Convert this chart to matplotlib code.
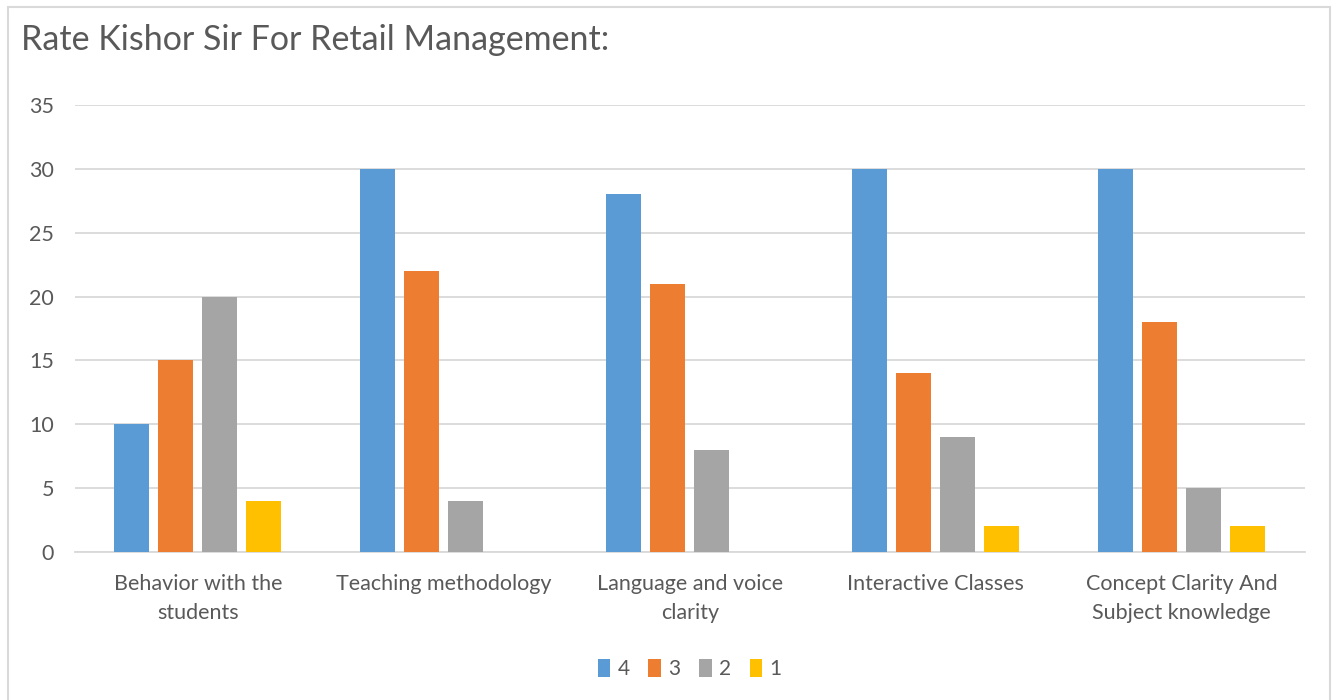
import numpy as np
import matplotlib.pyplot as plt
from matplotlib.patches import Rectangle

categories = ['Behavior with the\nstudents', 'Teaching methodology', 'Language and voice\nclarity',
              'Interactive Classes', 'Concept Clarity And\nSubject knowledge']
series_names = ['4', '3', '2', '1']
vals_4 = [10, 30, 28, 30, 30]
vals_3 = [15, 22, 21, 14, 18]
vals_2 = [20, 4, 8, 9, 5]
vals_1 = [4, 0, 0, 2, 2]
colors = ['#5B9BD5', '#ED7D31', '#A5A5A5', '#FFC000']

plt.rcParams['font.family'] = ['Lato', 'DejaVu Sans']
text_col = '#595959'

fig = plt.figure(figsize=(13.38, 7.0), dpi=100)
fig.patches.append(Rectangle((0.006, -0.01), 0.988, 1.0, transform=fig.transFigure,
                             fill=False, edgecolor='#D9D9D9', linewidth=1.5))
ax = fig.add_axes([0.056, 0.2114, 0.919, 0.6386])

x = np.arange(len(categories))
width = 0.142
step = 0.179
for i, (name, vals) in enumerate(zip(series_names, [vals_4, vals_3, vals_2, vals_1])):
    ax.bar(x + (i - 1.5) * step, vals, width, color=colors[i], label=name, zorder=3)

ax.set_xlim(-0.5, len(categories) - 0.5)
ax.set_ylim(0, 35)
ax.set_yticks(range(0, 36, 5))
ax.yaxis.grid(True, color='#D9D9D9', linewidth=1.3, zorder=0)
for s in ['top', 'right', 'left']:
    ax.spines[s].set_visible(False)
ax.spines['bottom'].set_color('#D9D9D9')
ax.spines['bottom'].set_linewidth(1.3)
ax.tick_params(axis='both', length=0, labelsize=15.5, colors=text_col)
ax.tick_params(axis='y', pad=15)
ax.tick_params(axis='x', pad=16)
ax.set_xticks(x)
ax.set_xticklabels(categories, linespacing=1.55)

fig.text(0.016, 0.943, 'Rate Kishor Sir For Retail Management:', fontsize=24.5, color=text_col,
         va='center', ha='left')

ax.legend(loc='center', bbox_to_anchor=(0.5, -0.262), ncol=4, frameon=False, fontsize=15,
          labelcolor=text_col, handlelength=0.6, handleheight=0.9, handletextpad=0.35, columnspacing=0.9)

fig.savefig('out.png', dpi=100, facecolor='white')
